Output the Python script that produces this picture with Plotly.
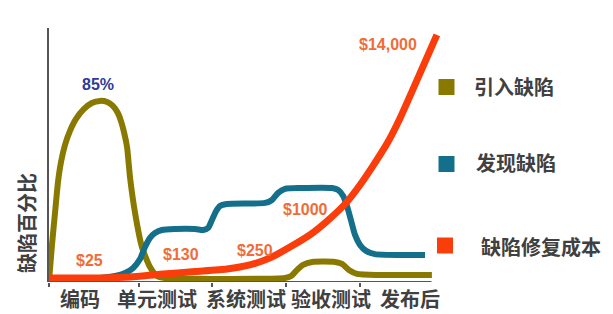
import plotly.graph_objects as go

# ---------------- data ----------------
categories = ["编码", "单元测试", "系统测试", "验收测试", "发布后"]
stage_bounds = [0, 23.5, 42.6, 61.9, 81.2]
category_pos = [8.1, 28.2, 51.4, 73.6, 94.3]

series_names = ["引入缺陷", "发现缺陷", "缺陷修复成本"]

introduced_x = [0, 0.78, 1.57, 2.35, 3.14, 4.18, 5.49, 7.06, 9.15, 11.2, 13.3, 15.2, 16.7,
                18.0, 18.8, 19.6, 20.4, 21.2, 22.5, 24.3, 26.4, 28.2, 30.3, 61.7, 63.3,
                64.8, 66.4, 68.8, 74.8, 76.6, 78.4, 80.5, 86.5, 100.1]
introduced_y = [0.5, 17.4, 32.4, 46.9, 56.3, 64.3, 70.9, 76.5, 81.2, 84.0, 85.0, 84.5, 82.6,
                79.3, 75.6, 70.4, 63.4, 48.8, 32.4, 16.4, 7.0, 2.8, 1.9, 1.9, 2.8,
                5.6, 8.0, 9.4, 9.4, 8.5, 5.6, 3.8, 3.3, 3.3]

found_x = [0, 13.3, 17.3, 19.9, 22.0, 23.8, 25.1, 26.4, 27.7, 29.5, 32.9, 38.2, 40.3, 41.6,
           42.6, 43.7, 44.7, 46.5, 56.5, 58.3, 59.9, 61.7, 65.6, 74.0, 75.6, 76.9, 77.9,
           79.0, 80.0, 81.3, 82.9, 85.2, 91.8, 98.3]
found_y = [1.4, 1.9, 2.8, 4.2, 6.6, 10.8, 16.4, 20.7, 23.0, 24.4, 24.9, 24.9, 24.4, 25.4,
           29.1, 33.3, 35.7, 36.6, 37.1, 38.5, 41.8, 43.7, 44.1, 44.1, 43.2, 40.4, 35.7,
           28.6, 22.1, 17.4, 14.6, 13.1, 12.7, 12.7]

cost_x = [0, 13.3, 21.2, 29.0, 38.2, 46.5, 52.5, 57.8, 63.0, 68.2, 72.7, 77.4, 81.3, 85.2,
          88.6, 91.8, 95.2, 98.3, 101.4]
cost_y = [1.9, 1.9, 2.3, 3.6, 4.9, 6.1, 8.0, 11.3, 16.4, 22.1, 28.6, 36.6, 45.5, 55.9,
          65.7, 77.0, 90.6, 103.3, 116.0]

peak_label = "85%"
cost_labels = ["$25", "$130", "$250", "$1000", "$14,000"]
y_title = "缺陷百分比"

# ---------------- styling ----------------
colors = ["#8a7900", "#14708a", "#fb3d0b"]
widths = [6, 6, 7]
label_color = "#f06c38"
text_gray = "#404040"
cjk = "Noto Sans CJK SC"
latin = "Liberation Sans, Arial"

W, H = 613, 314
ML, MR, MT, MB = 49, 170, 28, 32
PW, PH = W - ML - MR, H - MT - MB


def px(xp):
    return (xp - ML) / PW


def py(yp):
    return (H - MB - yp) / PH


fig = go.Figure()
for xs, ys, name, c, w in zip([introduced_x, found_x, cost_x],
                              [introduced_y, found_y, cost_y],
                              series_names, colors, widths):
    fig.add_trace(go.Scatter(x=xs, y=ys, mode="lines", name=name,
                             line=dict(color=c, width=w, shape="spline", smoothing=0.6),
                             showlegend=False, hoverinfo="skip"))

annotations = []
# category labels
for cat, xc in zip(categories, category_pos):
    annotations.append(dict(x=xc, y=0, xref="x", yref="paper", yshift=-16,
                            text="<b>%s</b>" % cat, showarrow=False,
                            xanchor="center", yanchor="middle",
                            font=dict(family=cjk, size=20, color=text_gray)))
# y title
annotations.append(dict(x=px(26), y=py(223), xref="paper", yref="paper",
                        text="<b>%s</b>" % y_title, showarrow=False, textangle=-90,
                        xanchor="center", yanchor="middle",
                        font=dict(family=cjk, size=20, color=text_gray)))
# peak label
annotations.append(dict(x=12.8, y=92.5, xref="x", yref="y", text="<b>%s</b>" % peak_label,
                        showarrow=False, font=dict(family=latin, size=16, color="#2d3a9a")))
# cost labels
cost_pos = [(10.7, 10.3), (34.5, 12.7), (53.8, 15.0), (67.1, 33.8), (88.5, 111.3)]
for t, (ax, ay) in zip(cost_labels, cost_pos):
    annotations.append(dict(x=ax, y=ay, xref="x", yref="y", text="<b>%s</b>" % t,
                            showarrow=False, font=dict(family=latin, size=16, color=label_color)))

shapes = []
# x axis line
shapes.append(dict(type="line", xref="x", yref="y", x0=0, x1=100, y0=0, y1=0,
                   line=dict(color="#555555", width=2)))
# legend
legend_sq = [(446.5, 87), (446.5, 164), (445, 245.5)]
legend_tx = [(472, 86), (474, 162), (479, 246)]
for name, c, (sx, sy), (tx, ty) in zip(series_names, colors, legend_sq, legend_tx):
    shapes.append(dict(type="rect", xref="paper", yref="paper",
                       x0=px(sx - 8), x1=px(sx + 8), y0=py(sy + 8), y1=py(sy - 8),
                       fillcolor=c, line=dict(width=0)))
    annotations.append(dict(x=px(tx), y=py(ty), xref="paper", yref="paper",
                            text="<b>%s</b>" % name, showarrow=False,
                            xanchor="left", yanchor="middle",
                            font=dict(family=cjk, size=20, color=text_gray)))

fig.update_layout(
    width=W, height=H,
    margin=dict(l=ML, r=MR, t=MT, b=MB, pad=0),
    paper_bgcolor="white", plot_bgcolor="white",
    xaxis=dict(range=[0, 103], showgrid=False, zeroline=False, showline=False,
               tickmode="array", tickvals=stage_bounds, ticktext=[""] * len(stage_bounds),
               ticks="outside", ticklen=4, tickwidth=2, tickcolor="#555555",
               showticklabels=False, fixedrange=True),
    yaxis=dict(range=[0, 119.2], showgrid=False, zeroline=False, showline=True,
               linecolor="#555555", linewidth=2, showticklabels=False, ticks="",
               fixedrange=True),
    annotations=annotations, shapes=shapes, showlegend=False,
)

fig.write_html("out.html")
